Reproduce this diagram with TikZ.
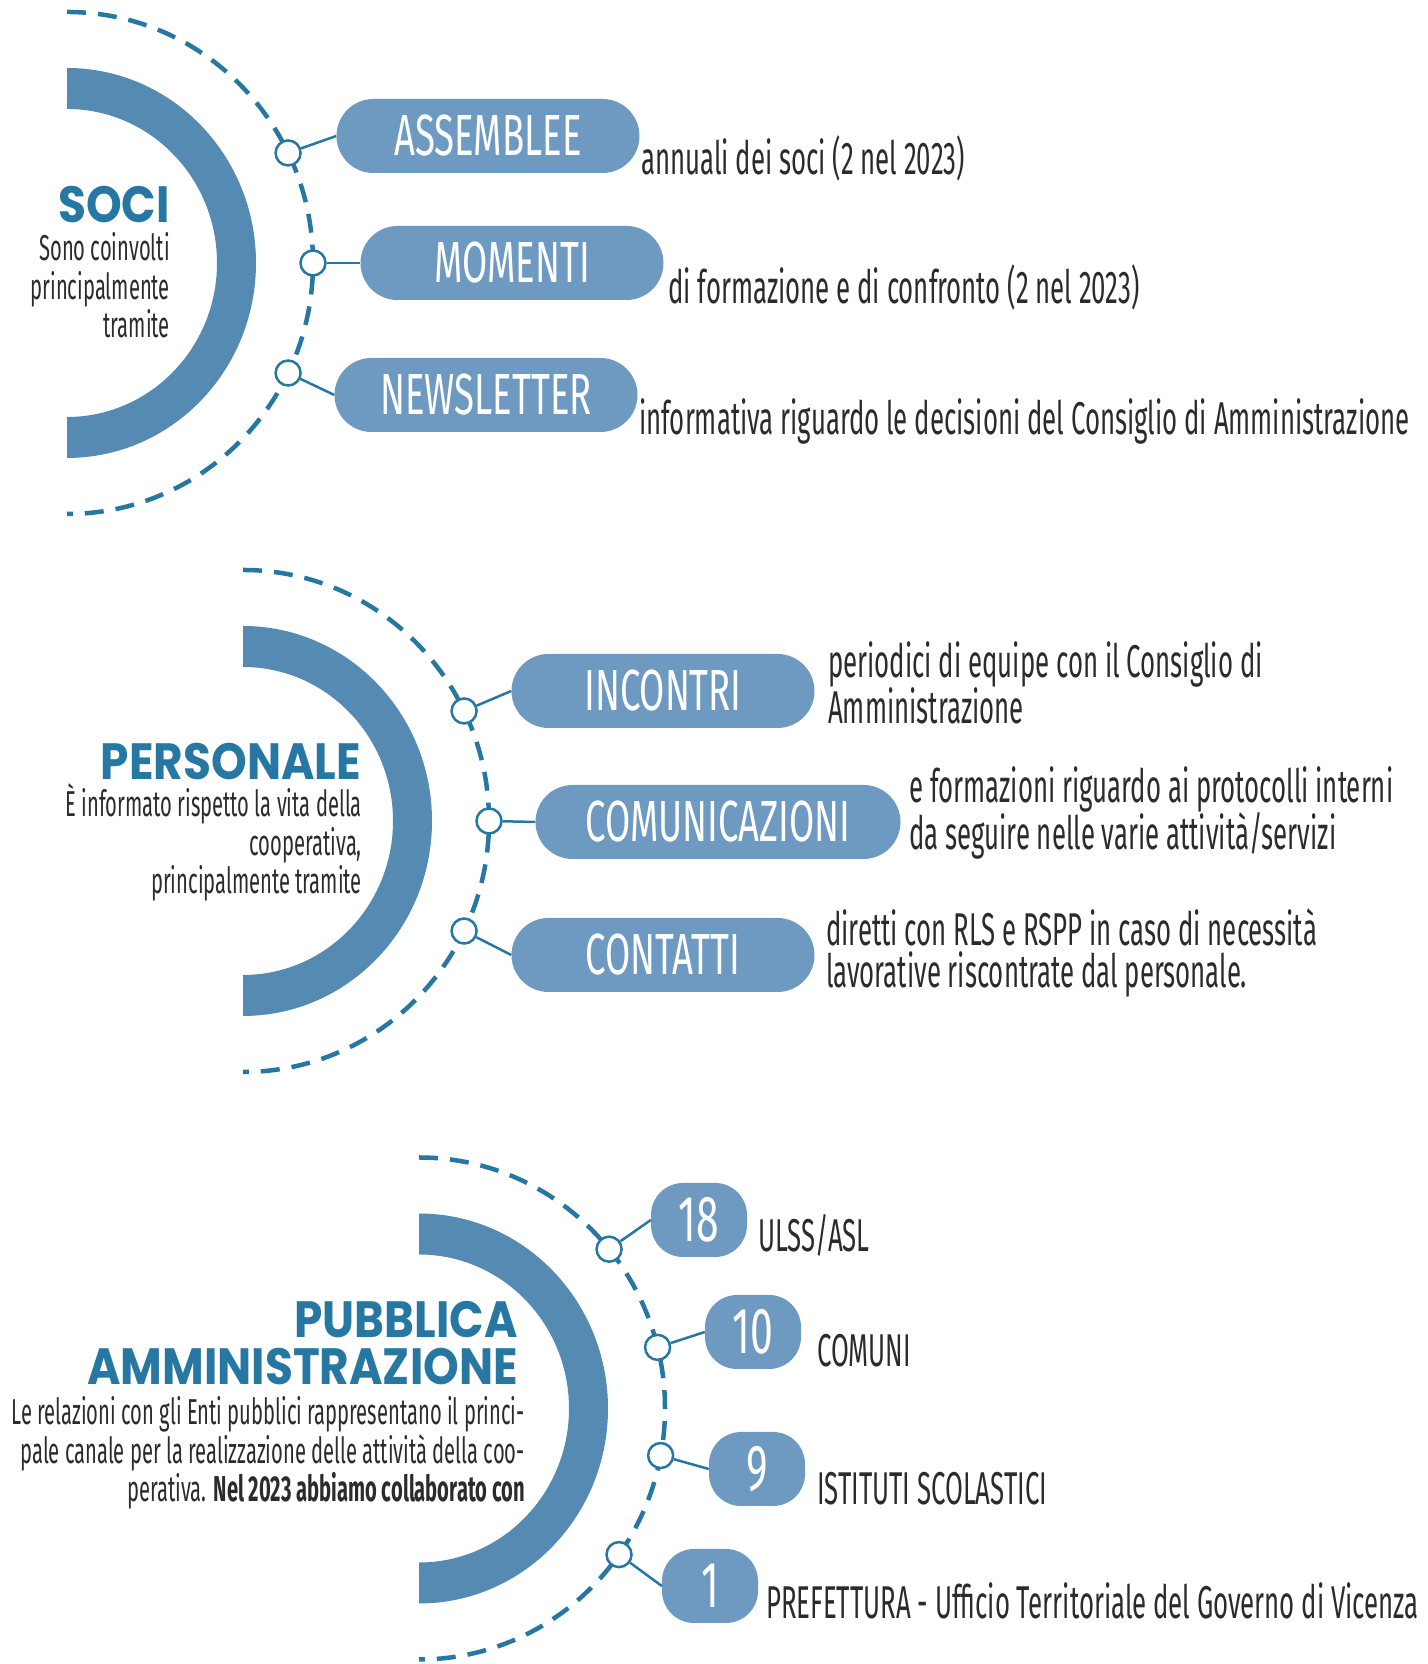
\documentclass[tikz,border=0pt]{standalone}
\usepackage{fontspec}
\usepackage{xcolor}
\setmainfont{Fira Sans}
\newfontfamily\narrowfont[FakeStretch=0.56]{Fira Sans}
\newfontfamily\pillfont[FakeStretch=0.63]{Fira Sans}
\newfontfamily\titlefont[FakeStretch=0.89]{Poppins}

\definecolor{ringblue}{HTML}{558AB3}
\definecolor{pillblue}{HTML}{6E9AC1}
\definecolor{darkblue}{HTML}{2777A3}
\definecolor{textgray}{HTML}{2B2B2B}

\begin{document}
\begin{tikzpicture}[x=1pt,y=1pt]
        \tikzset{
            ring/.style={fill=ringblue},
            dashring/.style={draw=darkblue, line width=4.5pt, dash pattern=on 19pt off 12pt},
            knot/.style={circle, draw=darkblue, fill=white, line width=2.5pt, minimum size=25pt, inner sep=0pt},
            link/.style={draw=darkblue, line width=2.5pt},
            pill/.style={fill=pillblue, rounded corners=37pt, minimum width=303pt, minimum height=74pt,
                inner sep=0pt, text=white, font=\pillfont\fontsize{58}{58}\selectfont},
            count/.style={fill=pillblue, rounded corners=32pt, minimum width=96pt, minimum height=74pt,
                inner sep=0pt, text=white, font=\pillfont\fontsize{65}{65}\selectfont},
            note/.style={anchor=base west, inner sep=0pt, align=left, text=textgray,
                font=\narrowfont\fontsize{46}{42}\selectfont},
            heading/.style={anchor=base east, inner sep=0pt, align=right, text=darkblue,
                font=\titlefont\bfseries\fontsize{51}{47}\selectfont},
            intro/.style={anchor=base east, inner sep=0pt, align=right, text=textgray,
                font=\narrowfont\fontsize{36}{38.5}\selectfont}}

        \useasboundingbox (0,0) rectangle (1427,1664);

        % the three half rings
        \foreach \cx/\cy/\nm in {67/1401/soc, 243/843/per, 419/255.5/pub} {
            \coordinate (\nm) at (\cx,\cy);
            \fill[ring] (\cx,\cy+195) arc[start angle=90, end angle=-90, x radius=189, y radius=195]
                -- ++(0,41) arc[start angle=-90, end angle=90, x radius=150, y radius=154] -- cycle;
            \draw[dashring] (\cx,\cy+251) arc[start angle=90, end angle=-90, x radius=246, y radius=251];
        }

        % multi-line texts sit on the baseline of their last line
        \node[heading] (soci) at (170,1441) {SOCI};
        \node[intro] (socitxt) at (170,1326) {Sono coinvolti\\principalmente\\tramite};

        \node[heading] (personale) at (361,884) {PERSONALE};
        \node[intro] (personaletxt) at (362,770) {È informato rispetto la vita della\\cooperativa,\\principalmente tramite};

        \node[heading] (pa) at (518,279) {PUBBLICA\\AMMINISTRAZIONE};
        \node[intro] (patxt) at (525,162) {Le relazioni con gli Enti pubblici rappresentano il princi-\\pale canale per la realizzazione delle attività della coo-\\perativa. {\bfseries Nel 2023 abbiamo collaborato con}};

        % soci
        \node[pill] (assemblee) at (488,1528) {ASSEMBLEE};
        \node[pill] (momenti) at (512,1401) {MOMENTI};
        \node[pill] (newsletter) at (486,1269) {NEWSLETTER};
        \node[note] (assembleetxt) at (641,1489) {annuali dei soci (2 nel 2023)};
        \node[note] (momentitxt) at (668,1360) {di formazione e di confronto (2 nel 2023)};
        \node[note] (newslettertxt) at (639,1229) {informativa riguardo le decisioni del Consiglio di Amministrazione};

        \foreach \a/\t [count=\i] in {26/assemblee, 0/momenti, -26/newsletter} {
            \node[knot] (soc\i) at ([shift={(\a:246 and 251)}]soc) {};
            \draw[link] (soc\i) -- (\t.west);
        }

        % personale
        \node[pill] (incontri) at (663,973) {INCONTRI};
        \node[pill, minimum width=365pt] (comunicazioni) at (718,842) {COMUNICAZIONI};
        \node[pill] (contatti) at (663,709) {CONTATTI};
        \node[note] (incontritxt) at (828,940) {periodici di equipe con il Consiglio di\\Amministrazione};
        \node[note] (comunicazionitxt) at (909,814) {e formazioni riguardo ai protocolli interni\\da seguire nelle varie attività/servizi};
        \node[note] (contattitxt) at (826,676) {diretti con RLS e RSPP in caso di necessità\\lavorative riscontrate dal personale.};

        \foreach \a/\t [count=\i] in {26/incontri, 0/comunicazioni, -26/contatti} {
            \node[knot] (per\i) at ([shift={(\a:246 and 251)}]per) {};
            \draw[link] (per\i) -- (\t.west);
        }

        % pubblica amministrazione
        \node[count] (ulss) at (699,444) {18};
        \node[count] (comuni) at (753,332) {10};
        \node[count] (istituti) at (757,195) {9};
        \node[count] (prefettura) at (710,78) {1};
        \node[note] (ulsstxt) at (758,412) {ULSS/ASL};
        \node[note] (comunitxt) at (817,297) {COMUNI};
        \node[note] (istitutitxt) at (817,159) {ISTITUTI SCOLASTICI};
        \node[note] (prefetturatxt) at (766,45) {PREFETTURA - Ufficio Territoriale del Governo di Vicenza};

        \foreach \a/\t [count=\i] in {39.4/ulss, 14.1/comuni, -10.8/istituti, -35.6/prefettura} {
            \node[knot] (pub\i) at ([shift={(\a:246 and 251)}]pub) {};
            \draw[link] (pub\i) -- (\t.west);
        }

    \end{tikzpicture}
\end{document}
